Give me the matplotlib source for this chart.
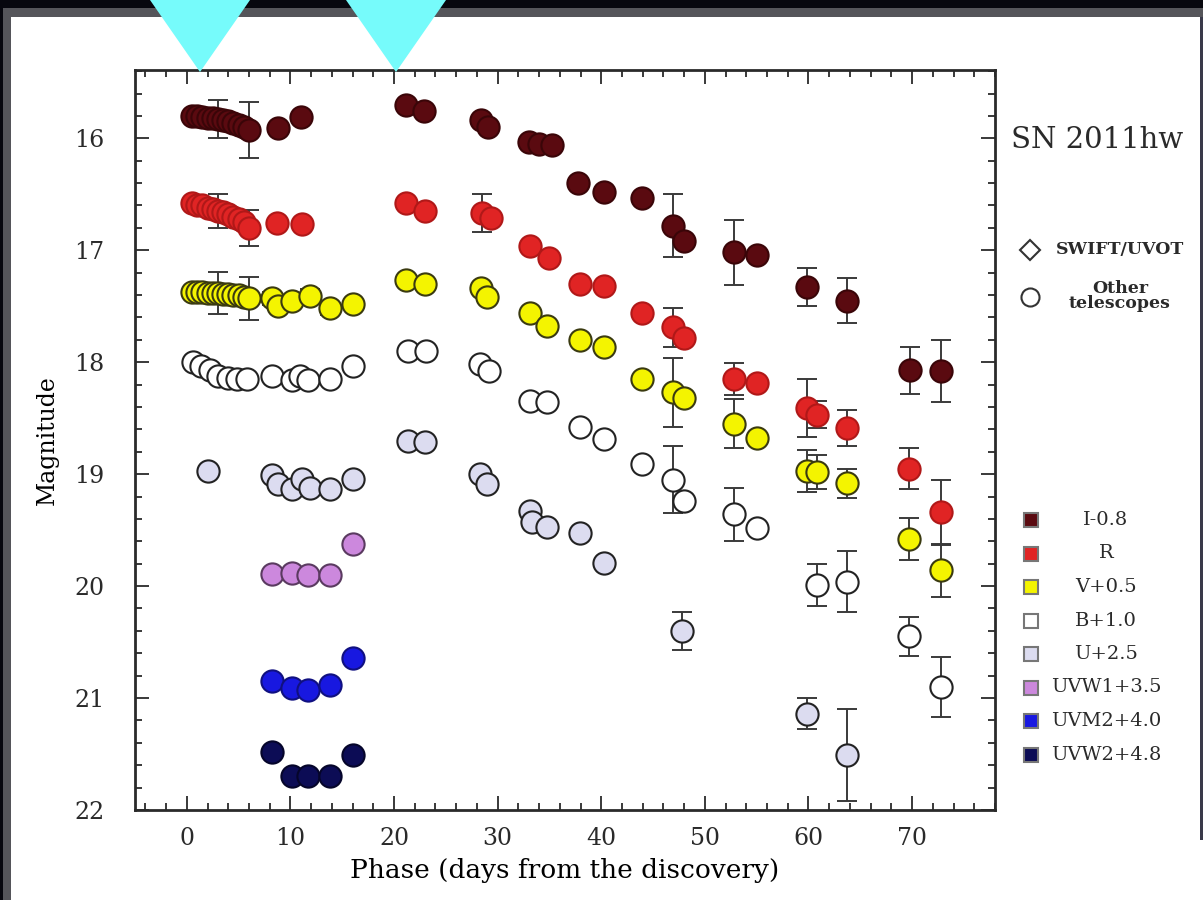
import matplotlib
matplotlib.use('Agg')
import matplotlib.pyplot as plt
from matplotlib.patches import Rectangle, Polygon
from matplotlib.ticker import MultipleLocator
import numpy as np

plt.rcParams['font.family'] = 'DejaVu Serif'
plt.rcParams['axes.edgecolor'] = '#2a2a2a'
plt.rcParams['xtick.color'] = '#2a2a2a'
plt.rcParams['ytick.color'] = '#2a2a2a'
plt.rcParams['text.color'] = '#2a2a2a'

# photometry (days from discovery, shifted magnitude, error; 0 = no bar drawn)
days_I = [0.5, 1.0, 1.5, 2.0, 2.5, 3.0, 3.5, 4.0, 4.5, 5.0, 5.5, 6.0, 8.8, 11.0,
          21.2, 22.9, 28.4, 29.1, 33.0, 34.0, 35.2, 37.8, 40.3, 43.9, 46.9, 48.0,
          52.8, 55.0, 59.9, 63.7, 69.8, 72.8]
mag_I = [15.80, 15.80, 15.81, 15.82, 15.82, 15.83, 15.84, 15.85, 15.86, 15.88, 15.90, 15.93,
         15.91, 15.81, 15.70, 15.76, 15.84, 15.90, 16.03, 16.05, 16.06, 16.40, 16.48, 16.53,
         16.78, 16.92, 17.02, 17.04, 17.33, 17.45, 18.07, 18.08]
err_I = [0, 0, 0, 0, 0, 0.17, 0, 0, 0, 0, 0, 0.25, 0, 0,
         0, 0, 0, 0, 0, 0, 0, 0, 0, 0, 0.28, 0,
         0.29, 0, 0.17, 0.20, 0.21, 0.28]

days_R = [0.5, 1.0, 1.5, 2.0, 2.5, 3.0, 3.5, 4.0, 4.5, 5.0, 5.5, 6.0, 8.7, 11.1,
          21.2, 23.0, 28.5, 29.4, 33.1, 35.0, 37.9, 40.3, 43.9, 46.9, 48.0, 52.8,
          55.0, 59.9, 60.8, 63.7, 69.7, 72.8]
mag_R = [16.58, 16.60, 16.60, 16.62, 16.63, 16.65, 16.66, 16.68, 16.70, 16.72, 16.75, 16.80,
         16.76, 16.77, 16.58, 16.65, 16.67, 16.71, 16.96, 17.07, 17.30, 17.32, 17.56, 17.69,
         17.78, 18.15, 18.19, 18.41, 18.47, 18.59, 18.95, 19.34]
err_R = [0, 0, 0, 0, 0, 0.15, 0, 0, 0, 0, 0, 0.16, 0, 0,
         0, 0, 0.17, 0, 0, 0, 0, 0, 0, 0.17, 0, 0.14,
         0, 0.26, 0.12, 0.16, 0.18, 0.29]

days_V = [0.5, 1.0, 1.5, 2.0, 2.5, 3.0, 3.5, 4.0, 4.5, 5.0, 5.5, 6.0, 8.2, 8.8, 10.2,
          11.9, 13.8, 16.0, 21.2, 23.0, 28.4, 29.0, 33.1, 34.8, 37.9, 40.3, 43.9, 46.9,
          48.0, 52.8, 55.0, 59.9, 60.8, 63.7, 69.7, 72.8]
mag_V = [17.37, 17.37, 17.37, 17.38, 17.38, 17.38, 17.39, 17.39, 17.40, 17.40, 17.42, 17.43,
         17.43, 17.50, 17.45, 17.41, 17.52, 17.48, 17.27, 17.30, 17.34, 17.42, 17.56, 17.68,
         17.80, 17.86, 18.15, 18.27, 18.32, 18.55, 18.68, 18.97, 18.98, 19.08, 19.58, 19.86]
err_V = [0, 0, 0, 0, 0, 0.19, 0, 0, 0, 0, 0, 0.19, 0.06, 0, 0,
         0.06, 0.06, 0, 0, 0, 0, 0, 0, 0, 0, 0, 0, 0.31,
         0, 0.22, 0, 0.19, 0.15, 0.13, 0.19, 0.24]

days_B = [0.6, 1.4, 2.2, 3.0, 4.0, 4.8, 5.8, 8.2, 10.2, 10.9, 11.7, 13.8, 16.0,
          21.3, 23.1, 28.3, 29.2, 33.1, 34.8, 37.9, 40.3, 43.9, 46.9, 48.0, 52.8,
          55.0, 60.8, 63.7, 69.7, 72.8]
mag_B = [18.00, 18.03, 18.07, 18.12, 18.14, 18.15, 18.15, 18.12, 18.16, 18.12, 18.16, 18.15,
         18.03, 17.90, 17.90, 18.02, 18.08, 18.35, 18.36, 18.58, 18.69, 18.91, 19.05, 19.24,
         19.36, 19.48, 19.99, 19.96, 20.45, 20.90]
err_B = [0, 0, 0, 0, 0, 0, 0, 0, 0, 0, 0, 0, 0,
         0, 0, 0, 0, 0, 0, 0, 0, 0, 0.30, 0, 0.24,
         0, 0.19, 0.27, 0.17, 0.27]

days_U = [2.0, 8.2, 8.8, 10.2, 11.1, 11.9, 13.8, 16.0, 21.3, 23.0, 28.3, 29.0,
          33.1, 33.3, 34.8, 37.9, 40.3, 47.8, 59.9, 63.7]
mag_U = [18.97, 19.01, 19.09, 19.13, 19.04, 19.12, 19.13, 19.04, 18.70, 18.71, 19.00, 19.09,
         19.33, 19.43, 19.47, 19.53, 19.79, 20.40, 21.14, 21.51]
err_U = [0, 0, 0, 0, 0, 0, 0, 0, 0, 0, 0, 0,
         0, 0, 0, 0, 0, 0.17, 0.14, 0.41]

days_uv = [8.2, 10.2, 11.7, 13.8, 16.0]
mag_UVW1 = [19.89, 19.88, 19.90, 19.90, 19.62]
mag_UVM2 = [20.85, 20.91, 20.93, 20.88, 20.64]
mag_UVW2 = [21.48, 21.70, 21.70, 21.70, 21.51]

band_labels = ['I-0.8', 'R', 'V+0.5', 'B+1.0', 'U+2.5', 'UVW1+3.5', 'UVM2+4.0', 'UVW2+4.8']
face_colors = ['#5a0a10', '#e02424', '#f4f400', '#ffffff', '#dcdcf0', '#cc88dd', '#1818e0', '#0c0c55']
edge_colors = ['#3a0508', '#b01818', '#3a3a10', '#222222', '#222222', '#5a3a60', '#101080', '#05052a']

W, H = 1203, 900
fig = plt.figure(figsize=(W / 100, H / 100), dpi=100, facecolor='#07070e')

# slide frame, drawn in pixel coordinates
bg = fig.add_axes([0, 0, 1, 1], zorder=0)
bg.set_xlim(0, W)
bg.set_ylim(H, 0)
bg.axis('off')
bg.add_patch(Rectangle((3, 8), W - 3, H - 8, color='#55555a', lw=0))
bg.add_patch(Rectangle((11, 17), W - 11, H - 17, color='white', lw=0))
bg.add_patch(Rectangle((1200, 17), 3, 823, color='#3a3a4a', lw=0))

ax = fig.add_axes([135 / W, 1 - 810 / H, (995 - 135) / W, (810 - 70) / H], zorder=1)

series = [(days_I, mag_I, err_I), (days_R, mag_R, err_R), (days_V, mag_V, err_V),
          (days_B, mag_B, err_B), (days_U, mag_U, err_U),
          (days_uv, mag_UVW1, None), (days_uv, mag_UVM2, None), (days_uv, mag_UVW2, None)]

for (d, m, e), fc, ec in zip(series, face_colors, edge_colors):
    d = np.array(d)
    m = np.array(m)
    if e is not None:
        e = np.array(e)
        has = e > 0
        ax.errorbar(d[has], m[has], yerr=e[has], fmt='none', ecolor='#3a3a3a',
                    elinewidth=1.4, capsize=7, capthick=1.4, zorder=2)
    ax.plot(d, m, 'o', ms=16, mfc=fc, mec=ec, mew=1.5, zorder=3)

ax.set_xlim(-5, 78)
ax.set_ylim(22, 15.39)
ax.xaxis.set_major_locator(MultipleLocator(10))
ax.xaxis.set_minor_locator(MultipleLocator(2))
ax.yaxis.set_major_locator(MultipleLocator(1))
ax.yaxis.set_minor_locator(MultipleLocator(0.2))
ax.tick_params(which='both', direction='in', top=True, right=True, labelsize=17, width=1.3)
ax.tick_params(which='major', length=10, pad=12)
ax.tick_params(which='minor', length=5)
ax.tick_params(axis='y', which='major', pad=22)
for s in ax.spines.values():
    s.set_linewidth(2)
ax.set_xlabel('Phase (days from the discovery)', fontsize=19, labelpad=6)
ax.set_ylabel('Magnitude', fontsize=17, labelpad=11)

# legend column on the right
bg.text(1097, 140, 'SN 2011hw', fontsize=21, ha='center', va='center')
bg.plot(1030, 250, 'D', ms=10, mfc='white', mec='#333333', mew=1.5)
bg.text(1120, 250, 'SWIFT/UVOT', fontsize=12.5, fontweight='bold', ha='center', va='center')
bg.plot(1030, 297, 'o', ms=13, mfc='white', mec='#333333', mew=1.5)
bg.text(1120, 296, 'Other\ntelescopes', fontsize=12.5, fontweight='bold', ha='center',
        va='center', linespacing=0.9)
for i, (lab, fc) in enumerate(zip(band_labels, face_colors)):
    yy = 520 + i * 33.5
    bg.add_patch(Rectangle((1024, yy - 7), 14, 14, facecolor=fc, edgecolor='#777777', lw=1.5))
    bg.text(1106, yy, lab, fontsize=14, ha='center', va='center')

# cyan pointers over the top of the panel
fg = fig.add_axes([0, 0, 1, 1], zorder=5)
fg.set_xlim(0, W)
fg.set_ylim(H, 0)
fg.axis('off')
fg.patch.set_alpha(0)
for tip in (200, 396):
    fg.add_patch(Polygon([(tip - 50, 0), (tip + 50, 0), (tip, 72)], closed=True,
                         facecolor='#76fbfb', edgecolor='none'))

fig.savefig('out.png', dpi=100, facecolor=fig.get_facecolor())
